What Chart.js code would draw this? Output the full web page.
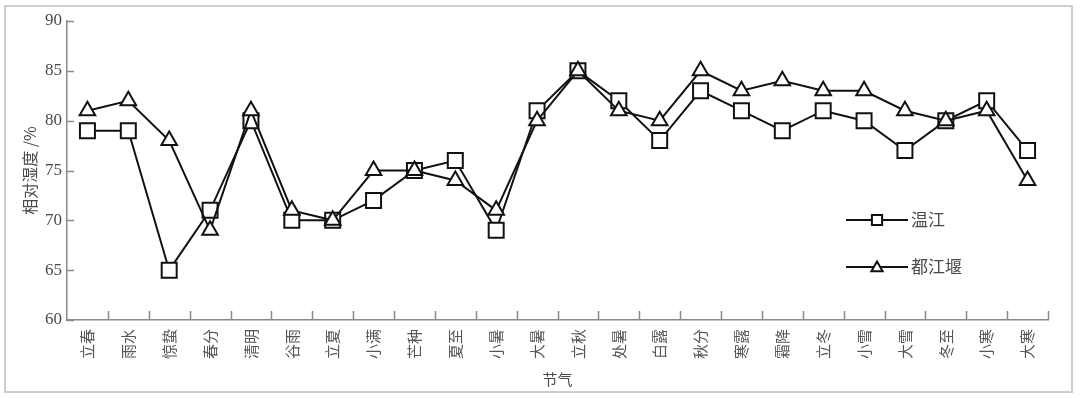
<!DOCTYPE html>
<html>
<head>
<meta charset="utf-8">
<script src="https://cdn.jsdelivr.net/npm/chart.js@4/dist/chart.umd.min.js"></script>
<style>
  html, body { margin: 0; padding: 0; background: #fff; }
  #wrap { width: 1080px; height: 398px; position: relative; }
</style>
</head>
<body>
<div id="wrap"><canvas id="c" width="1080" height="398"></canvas></div>
<script>
const categories = ['立春','雨水','惊蛰','春分','清明','谷雨','立夏','小满','芒种','夏至','小暑','大暑','立秋','处暑','白露','秋分','寒露','霜降','立冬','小雪','大雪','冬至','小寒','大寒'];
const wenjiang = [79,79,65,71,80,70,70,72,75,76,69,81,85,82,78,83,81,79,81,80,77,80,82,77];
const dujiangyan = [81,82,78,69,81,71,70,75,75,74,71,80,85,81,80,85,83,84,83,83,81,80,81,74];
const seriesNames = ['温江','都江堰'];
const yTicks = [60,65,70,75,80,85,90];

const AXIS_COLOR = '#8a8a8a';
const TEXT_COLOR = '#4a4a4a';

const framePlugin = {
  id: 'frame',
  beforeDraw(chart) {
    const ctx = chart.ctx;
    ctx.save();
    ctx.fillStyle = '#fff';
    ctx.fillRect(0, 0, chart.width, chart.height);
    ctx.strokeStyle = '#d6cec4';
    ctx.lineWidth = 2;
    ctx.strokeRect(5, 6, 1067, 386);
    ctx.restore();
  }
};

const innerTicksPlugin = {
  id: 'innerTicks',
  afterDraw(chart) {
    const ctx = chart.ctx;
    const xs = chart.scales.x, ys = chart.scales.y;
    const area = chart.chartArea;
    ctx.save();
    ctx.strokeStyle = AXIS_COLOR;
    ctx.lineWidth = 1.5;
    const p0 = xs.getPixelForValue(0), p1 = xs.getPixelForValue(1);
    const step = p1 - p0;
    for (let i = 1; i <= categories.length; i++) {
      const x = Math.round(p0 - step / 2 + i * step) + 0.5;
      ctx.beginPath();
      ctx.moveTo(x, area.bottom);
      ctx.lineTo(x, area.bottom - 9);
      ctx.stroke();
    }
    ys.ticks.forEach(t => {
      const y = Math.round(ys.getPixelForValue(t.value)) + 0.5;
      ctx.beginPath();
      ctx.moveTo(area.left, y);
      ctx.lineTo(area.left + 7, y);
      ctx.stroke();
    });
    ctx.restore();
  }
};

const legendPlugin = {
  id: 'innerLegend',
  afterDraw(chart) {
    const ctx = chart.ctx;
    const rows = [220, 267];
    ctx.save();
    chart.data.datasets.forEach((ds, i) => {
      const y = rows[i];
      ctx.strokeStyle = ds.borderColor;
      ctx.lineWidth = 2;
      ctx.beginPath();
      ctx.moveTo(846, y);
      ctx.lineTo(908, y);
      ctx.stroke();
      ctx.fillStyle = '#fff';
      ctx.strokeStyle = ds.borderColor;
      ctx.lineWidth = 2;
      Chart.helpers.drawPoint(ctx, {
        pointStyle: ds.pointStyle,
        radius: ds.pointStyle === 'rect' ? 7.2 : 6.5,
        rotation: 0,
        borderWidth: 2
      }, 877, ds.pointStyle === 'rect' ? y : y + 1);
      ctx.fillStyle = TEXT_COLOR;
      ctx.font = '17px "Noto Sans CJK SC"';
      ctx.textBaseline = 'middle';
      ctx.textAlign = 'left';
      ctx.fillText(ds.label, 911, y);
    });
    ctx.restore();
  }
};

new Chart(document.getElementById('c'), {
  type: 'line',
  data: {
    labels: categories,
    datasets: [
      {
        label: seriesNames[0],
        data: wenjiang,
        borderColor: '#111',
        borderWidth: 2,
        pointStyle: 'rect',
        pointRadius: 10.6,
        pointBorderWidth: 2,
        pointBackgroundColor: '#fff',
        pointBorderColor: '#111',
        tension: 0,
        order: 2
      },
      {
        label: seriesNames[1],
        data: dujiangyan,
        borderColor: '#111',
        borderWidth: 2,
        pointStyle: 'triangle',
        pointRadius: 9,
        pointBorderWidth: 2,
        pointBackgroundColor: '#fff',
        pointBorderColor: '#111',
        tension: 0,
        order: 1
      }
    ]
  },
  options: {
    responsive: false,
    animation: false,
    devicePixelRatio: 1,
    layout: { padding: { left: 0, top: 21, right: 32, bottom: 0 } },
    plugins: {
      legend: { display: false },
      tooltip: { enabled: false }
    },
    scales: {
      x: {
        type: 'category',
        offset: true,
        grid: { display: false, drawTicks: false, offset: true },
        border: { display: true, color: AXIS_COLOR, width: 1.5 },
        ticks: {
          autoSkip: false,
          minRotation: 90,
          maxRotation: 90,
          padding: 9,
          color: '#555',
          font: { family: '"Noto Sans CJK SC"', size: 15 }
        },
        title: {
          display: true,
          text: '节气',
          color: TEXT_COLOR,
          font: { family: '"Noto Sans CJK SC"', size: 15 },
          padding: { top: 0, bottom: 10 }
        },
        afterFit(scale) { scale.height = 78; }
      },
      y: {
        min: 60,
        max: 90,
        afterBuildTicks(scale) { scale.ticks = yTicks.map(v => ({ value: v })); },
        grid: { display: false, drawTicks: false },
        border: { display: true, color: AXIS_COLOR, width: 1.5 },
        ticks: {
          padding: 5,
          color: TEXT_COLOR,
          font: { family: '"Liberation Serif"', size: 17 }
        },
        title: {
          display: true,
          text: '相对湿度 /%',
          color: TEXT_COLOR,
          font: { family: '"Noto Sans CJK SC"', size: 16 },
          padding: { top: 20, bottom: 0 }
        },
        afterFit(scale) { scale.width = 67; }
      }
    }
  },
  plugins: [framePlugin, innerTicksPlugin, legendPlugin]
});
</script>
</body>
</html>
